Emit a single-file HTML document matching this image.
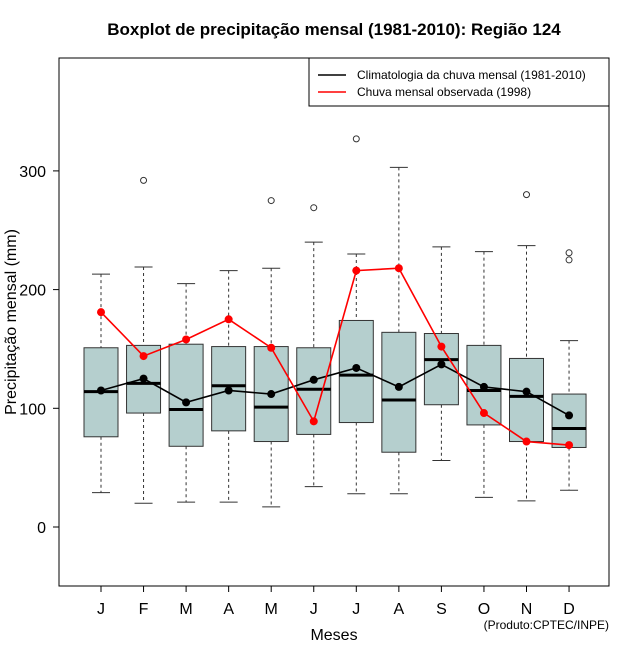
<!DOCTYPE html>
<html><head><meta charset="utf-8"><style>
body{margin:0;background:#fff}
svg{display:block;font-family:"Liberation Sans",Arial,sans-serif}
</style></head><body>
<svg id="c" width="640" height="660" viewBox="0 0 640 660">
<rect width="640" height="660" fill="#fff"/>
<text x="334" y="35" text-anchor="middle" font-size="17" font-weight="bold">Boxplot de precipitação mensal (1981-2010): Região 124</text>
<rect x="59" y="58" width="550" height="528" fill="none" stroke="#000"/>
<g id="plot"></g>
<text x="334" y="640" text-anchor="middle" font-size="16">Meses</text>
<text transform="translate(16,322) rotate(-90)" text-anchor="middle" font-size="16">Precipitação mensal (mm)</text>
<text x="609" y="629" text-anchor="end" font-size="12">(Produto:CPTEC/INPE)</text>
<g>
<rect x="309" y="58" width="300" height="48" fill="#fff" stroke="#000"/>
<line x1="318" y1="75" x2="346" y2="75" stroke="#000" stroke-width="1.5"/>
<text x="357" y="79" font-size="12">Climatologia da chuva mensal (1981-2010)</text>
<line x1="318" y1="92" x2="346" y2="92" stroke="#f00" stroke-width="1.5"/>
<text x="357" y="96" font-size="12">Chuva mensal observada (1998)</text>
</g>
</svg>
<script>
const months=["J","F","M","A","M","J","J","A","S","O","N","D"];
const lowW=[29,20,21,21,17,34,28,28,56,25,22,31];
const q1=[76,96,68,81,72,78,88,63,103,86,72,67];
const med=[114,121,99,119,101,116,128,107,141,115,110,83];
const q3=[151,153,154,152,152,151,174,164,163,153,142,112];
const highW=[213,219,205,216,218,240,230,303,236,232,237,157];
const outliers=[[],[292],[],[],[275],[269],[327],[],[],[],[280],[225,231]];
const climMean=[115,125,105,115,112,124,134,118,137,118,114,94];
const obs1998=[181,144,158,175,151,89,216,218,152,96,72,69];
const yTicks=[0,100,200,300];
const NS="http://www.w3.org/2000/svg";
const g=document.getElementById('plot');
const X=i=>101+i*42.55;
const Y=v=>527-v*1.187;
function mk(t,a,p){const e=document.createElementNS(NS,t);for(const k in a)e.setAttribute(k,a[k]);(p||g).appendChild(e);return e;}
yTicks.forEach(v=>{
 const l=mk('line',{x1:53,x2:59,y1:Y(v),y2:Y(v),stroke:'#000'});
 
 
 const t=mk('text',{x:46,y:Y(v)+6,'text-anchor':'end','font-size':16});t.textContent=v;
 
 
});
months.forEach((m,i)=>{
 const x=X(i);
 const tk=mk('line',{x1:x,x2:x,y1:586,y2:592,stroke:'#000'});
 
 
 const t=mk('text',{x:x,y:614,'text-anchor':'middle','font-size':16});t.textContent=m;
 
 
 const bg=mk('g',{});
 
 
 mk('line',{x1:x,x2:x,y1:Y(highW[i]),y2:Y(q3[i]),stroke:'#333','stroke-dasharray':'3,3'},bg);
 mk('line',{x1:x,x2:x,y1:Y(q1[i]),y2:Y(lowW[i]),stroke:'#333','stroke-dasharray':'3,3'},bg);
 mk('line',{x1:x-9,x2:x+9,y1:Y(highW[i]),y2:Y(highW[i]),stroke:'#333'},bg);
 mk('line',{x1:x-9,x2:x+9,y1:Y(lowW[i]),y2:Y(lowW[i]),stroke:'#333'},bg);
 mk('rect',{x:x-17,y:Y(q3[i]),width:34,height:Y(q1[i])-Y(q3[i]),fill:'#b5cfce',stroke:'#333'},bg);
 mk('line',{x1:x-17,x2:x+17,y1:Y(med[i]),y2:Y(med[i]),stroke:'#000','stroke-width':3},bg);
 outliers[i].forEach(o=>{const c=mk('circle',{cx:x,cy:Y(o),r:3,fill:'none',stroke:'#333'},bg);
  
  });
});
function series(vals,col,name){
 const p=mk('polyline',{points:vals.map((v,i)=>X(i)+','+Y(v)).join(' '),fill:'none',stroke:col,'stroke-width':1.6});
 
 
 vals.forEach((v,i)=>{const c=mk('circle',{cx:X(i),cy:Y(v),r:4,fill:col});
  
  });
}
series(climMean,'#000','climatology');
series(obs1998,'#f00','observed-1998');
</script>
</body></html>
